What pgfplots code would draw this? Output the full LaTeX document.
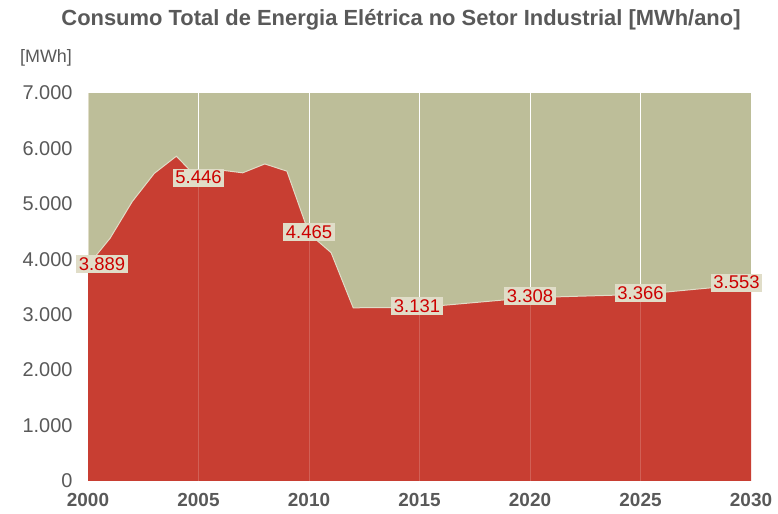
\documentclass[border=0pt]{standalone}
\usepackage{fontspec}
\setmainfont{Liberation Sans}
\usepackage{pgfplots}
\pgfplotsset{compat=1.18}
\definecolor{areared}{RGB}{200,62,50}
\definecolor{khaki}{RGB}{189,190,153}
\definecolor{lblfill}{RGB}{224,221,200}
\definecolor{lblred}{RGB}{204,0,0}
\definecolor{txtgray}{RGB}{89,89,89}
\begin{document}
\begin{tikzpicture}[x=1bp,y=1bp]
\path[use as bounding box] (0,0) rectangle (778,514);
\node[font=\bfseries\fontsize{22}{22}\selectfont, text=txtgray] at (401,494) {Consumo Total de Energia Elétrica no Setor Industrial [MWh/ano]};
\node[font=\fontsize{18}{18}\selectfont, text=txtgray] at (46,456) {[MWh]};
\begin{axis}[at={(88bp,33bp)}, anchor=south west, scale only axis,
  width=663bp, height=388bp,
  xmin=2000, xmax=2030, ymin=0, ymax=7000,
  xtick={2000,2005,...,2030}, ytick={0,1000,...,7000},
  axis background/.style={fill=khaki},
  axis x line*=bottom, axis y line*=left,
  x axis line style={draw={rgb,255:red,210;green,210;blue,210}, line width=1bp, -},
  y axis line style={draw=lblfill, line width=1bp, -},
  xmajorgrids, grid style={white, line width=1bp},
  major tick length=0pt,
  scaled y ticks=false,
  xticklabel style={font=\bfseries\fontsize{19}{19}\selectfont, text=txtgray, /pgf/number format/set thousands separator={}, /pgf/number format/assume math mode=true, yshift=-9bp},
  yticklabel style={font=\fontsize{20}{20}\selectfont, text=txtgray, /pgf/number format/1000 sep={.}, /pgf/number format/assume math mode=true, xshift=-12bp},
  clip=false,
]
\addplot[fill=areared, draw=none] coordinates {
(2000,3889) (2001,4380) (2002,5040) (2003,5550) (2004,5860) (2005,5446)
(2006,5610) (2007,5560) (2008,5720) (2009,5590) (2010,4465) (2011,4120)
(2012,3125) (2013,3127) (2014,3129) (2015,3131) (2020,3308) (2025,3366) (2030,3553)
} \closedcycle;
\addplot[draw=lblfill, line width=1bp, mark=none] coordinates {
(2000,3889) (2001,4380) (2002,5040) (2003,5550) (2004,5860) (2005,5446)
(2006,5610) (2007,5560) (2008,5720) (2009,5590) (2010,4465) (2011,4120)
(2012,3125) (2013,3127) (2014,3129) (2015,3131) (2020,3308) (2025,3366) (2030,3553)
};
\draw[white, opacity=0.18, line width=1bp] (axis cs:2005,0) -- (axis cs:2005,5446);
\draw[white, opacity=0.18, line width=1bp] (axis cs:2010,0) -- (axis cs:2010,4465);
\draw[white, opacity=0.18, line width=1bp] (axis cs:2015,0) -- (axis cs:2015,3131);
\draw[white, opacity=0.18, line width=1bp] (axis cs:2020,0) -- (axis cs:2020,3308);
\draw[white, opacity=0.18, line width=1bp] (axis cs:2025,0) -- (axis cs:2025,3366);
\pgfplotsset{lbl/.style={draw=none, mark=none, nodes near coords={\pgfmathprintnumber[fixed, precision=0, 1000 sep={.}, assume math mode=true]{\pgfplotspointmeta}},
  every node near coord/.style={fill=lblfill, text=lblred, font=\fontsize{18.5}{18.5}\selectfont, inner sep=2.5bp, anchor=center, yshift=1.5bp, #1}}}
\addplot[lbl={xshift=14bp}] coordinates {(2000,3889)};
\addplot[lbl={xshift=0bp}] coordinates {(2005,5446) (2010,4465) (2020,3308) (2025,3366)};
\addplot[lbl={xshift=-2.5bp}] coordinates {(2015,3131)};
\addplot[lbl={xshift=-14.5bp}] coordinates {(2030,3553)};
\end{axis}
\end{tikzpicture}
\end{document}
